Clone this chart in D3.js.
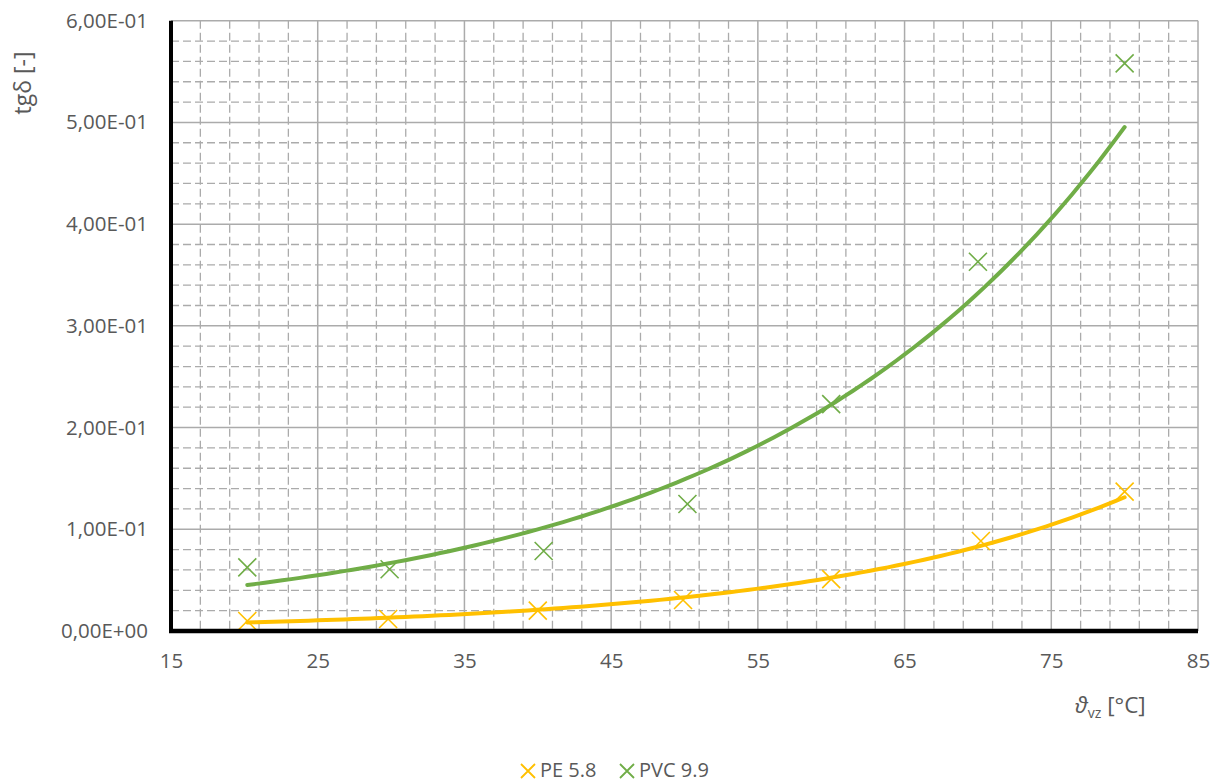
<!DOCTYPE html>
<html>
<head>
<meta charset="utf-8">
<script src="https://cdn.jsdelivr.net/npm/d3@7"></script>
<style>
  body { margin: 0; background: #fff; }
  text { font-family: "Open Sans", "Noto Sans", sans-serif; fill: #595959; }
</style>
</head>
<body>
<div class="canvas"></div>
<script>
// measured points (temperature in °C, tg delta)
const peTemp = [20.2, 29.8, 40.0, 49.9, 60.0, 70.2, 80.0]
const peTanD = [0.0098, 0.0118, 0.0200, 0.0305, 0.0510, 0.0885, 0.1370]
const pvcTemp = [20.2, 29.9, 40.4, 50.2, 60.0, 70.0, 80.0]
const pvcTanD = [0.0626, 0.0607, 0.0787, 0.1249, 0.2230, 0.3630, 0.5580]

const seriesNames = ["PE 5.8", "PVC 9.9"]
const seriesColors = ["#FFC000", "#70AD47"]

const xTicks = [15, 25, 35, 45, 55, 65, 75, 85]
const yTicks = [0, 0.1, 0.2, 0.3, 0.4, 0.5, 0.6]
const yTickLabels = ["0,00E+00", "1,00E-01", "2,00E-01", "3,00E-01", "4,00E-01", "5,00E-01", "6,00E-01"]

const width = 1213
const height = 783

const svg = d3.select(".canvas")
    .append("svg")
    .attr("width", width)
    .attr("height", height)

const x = d3.scaleLinear().domain([15, 85]).range([171, 1198])
const y = d3.scaleLinear().domain([0, 0.6]).range([631, 20.7])

const gridColor = "#ababab"

// minor gridlines (dashed), every 2 °C and every 0.02
const minorX = d3.range(17, 85, 2).filter(v => (v - 15) % 10 !== 0)
const minorY = d3.range(0.02, 0.6, 0.02).filter(v => Math.abs(v * 10 - Math.round(v * 10)) > 1e-6)

const grid = svg.append("g")
grid.selectAll(".mx")
    .data(minorX)
    .enter()
    .append("line")
    .attr("x1", d => x(d)).attr("x2", d => x(d))
    .attr("y1", y(0.6)).attr("y2", y(0))
    .attr("stroke", gridColor)
    .attr("stroke-width", 1.3)
    .attr("stroke-dasharray", "8,4")
grid.selectAll(".my")
    .data(minorY)
    .enter()
    .append("line")
    .attr("x1", x(15)).attr("x2", x(85))
    .attr("y1", d => y(d)).attr("y2", d => y(d))
    .attr("stroke", gridColor)
    .attr("stroke-width", 1.3)
    .attr("stroke-dasharray", "8,4")

// major gridlines
grid.selectAll(".Mx")
    .data(xTicks.slice(1))
    .enter()
    .append("line")
    .attr("x1", d => x(d)).attr("x2", d => x(d))
    .attr("y1", y(0.6)).attr("y2", y(0))
    .attr("stroke", gridColor)
    .attr("stroke-width", 1.5)
grid.selectAll(".My")
    .data(yTicks.slice(1))
    .enter()
    .append("line")
    .attr("x1", x(15)).attr("x2", x(85))
    .attr("y1", d => y(d)).attr("y2", d => y(d))
    .attr("stroke", gridColor)
    .attr("stroke-width", 1.5)

// axes labels
const xAxis = d3.axisBottom(x).tickValues(xTicks).tickSize(0).tickPadding(22)
const yAxis = d3.axisLeft(y).tickValues(yTicks).tickSize(0).tickPadding(23)
    .tickFormat((d, i) => yTickLabels[i])

const xAxisGroup = svg.append("g").attr("transform", `translate(0, ${y(0)})`).call(xAxis)
const yAxisGroup = svg.append("g").attr("transform", `translate(${x(15)}, 0)`).call(yAxis)
xAxisGroup.select(".domain").remove()
yAxisGroup.select(".domain").remove()
svg.selectAll(".tick text")
    .style("font-family", '"Open Sans", "Noto Sans", sans-serif')
    .style("font-size", "20.5px")
    .attr("fill", "#595959")

// exponential trendline fitted (least squares on ln y) like Excel does
function expFit(xs, ys) {
    const ly = ys.map(v => Math.log(v))
    const mx = d3.mean(xs)
    const my = d3.mean(ly)
    const b = d3.sum(xs, (v, i) => (v - mx) * (ly[i] - my)) / d3.sum(xs, v => (v - mx) * (v - mx))
    const a = Math.exp(my - b * mx)
    return v => a * Math.exp(b * v)
}

const series = [
    { name: seriesNames[0], color: seriesColors[0], xs: peTemp, ys: peTanD },
    { name: seriesNames[1], color: seriesColors[1], xs: pvcTemp, ys: pvcTanD }
]

const line = d3.line().x(d => x(d[0])).y(d => y(d[1])).curve(d3.curveLinear)

series.forEach(s => {
    const f = expFit(s.xs, s.ys)
    const [x0, x1] = d3.extent(s.xs)
    const pts = d3.range(0, 101).map(i => {
        const t = x0 + (x1 - x0) * i / 100
        return [t, f(t)]
    })
    svg.append("path")
        .datum(pts)
        .attr("d", line)
        .attr("fill", "none")
        .attr("stroke", s.color)
        .attr("stroke-width", 4)
        .attr("stroke-linecap", "round")
})

// X shaped markers
function cross(g, cx, cy, r, color, w) {
    g.append("path")
        .attr("d", `M${cx - r},${cy - r}L${cx + r},${cy + r}M${cx - r},${cy + r}L${cx + r},${cy - r}`)
        .attr("stroke", color)
        .attr("stroke-width", w)
        .attr("fill", "none")
}

series.forEach(s => {
    const g = svg.append("g")
    s.xs.forEach((v, i) => cross(g, x(v), y(s.ys[i]), 9, s.color, 1.6))
})

// axis lines
svg.append("line")
    .attr("x1", x(15)).attr("x2", x(15))
    .attr("y1", y(0.6)).attr("y2", y(0) + 2)
    .attr("stroke", "#000").attr("stroke-width", 4)
svg.append("line")
    .attr("x1", x(15) - 2).attr("x2", x(85))
    .attr("y1", y(0)).attr("y2", y(0))
    .attr("stroke", "#000").attr("stroke-width", 4.5)

// axis titles
svg.append("text")
    .attr("transform", `translate(31, 83) rotate(-90)`)
    .attr("text-anchor", "middle")
    .style("font-size", "23px")
    .text("tgδ [-]")

const xt = svg.append("text")
    .attr("x", 1075)
    .attr("y", 713)
    .style("font-size", "22.5px")
xt.append("tspan").style("font-style", "italic").text("ϑ")
xt.append("tspan").attr("dy", 5).style("font-size", "14px").text("vz")
xt.append("tspan").attr("dy", -5).text(" [°C]")

// legend
const legend = svg.append("g")
const legendX = [528, 627]
series.forEach((s, i) => {
    cross(legend, legendX[i], 771, 7, s.color, 1.8)
    legend.append("text")
        .attr("x", legendX[i] + 12)
        .attr("y", 777)
        .style("font-size", "20px")
        .text(s.name)
})
</script>
</body>
</html>
